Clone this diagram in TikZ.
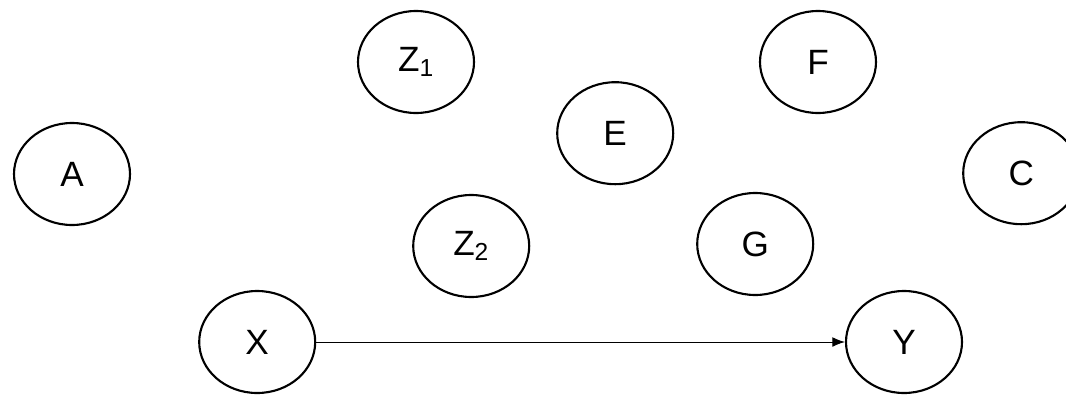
\documentclass[tikz,border=0pt]{standalone}
\usepackage{fontspec}
\setmainfont{Liberation Sans}
\usetikzlibrary{shapes.geometric, arrows.meta}

\begin{document}
\begin{tikzpicture}[
        var/.style={ellipse, draw=black, line width=1.5pt, minimum width=2.9cm, minimum height=2.55cm, inner sep=0pt, font=\fontsize{25}{30}\selectfont},
        line/.style={draw=black, -{Latex[length=9pt, width=7pt]}, line width=0.7pt}]
    \useasboundingbox (0,0) rectangle (26.65,-9.9);

    \node [var] (z1) at (10.40,-1.55) {Z\textsubscript{1}};
    \node [var] (f) at (20.45,-1.55) {F};
    \node [var] (e) at (15.38,-3.33) {E};
    \node [var] (a) at (1.80,-4.35) {A};
    \node [var] (c) at (25.53,-4.33) {C};
    \node [var] (z2) at (11.78,-6.15) {Z\textsubscript{2}};
    \node [var] (g) at (18.88,-6.10) {G};
    \node [var] (x) at (6.43,-8.55) {X};
    \node [var] (y) at (22.60,-8.55) {Y};

    \path [line] (x) -- (y);
\end{tikzpicture}
\end{document}
